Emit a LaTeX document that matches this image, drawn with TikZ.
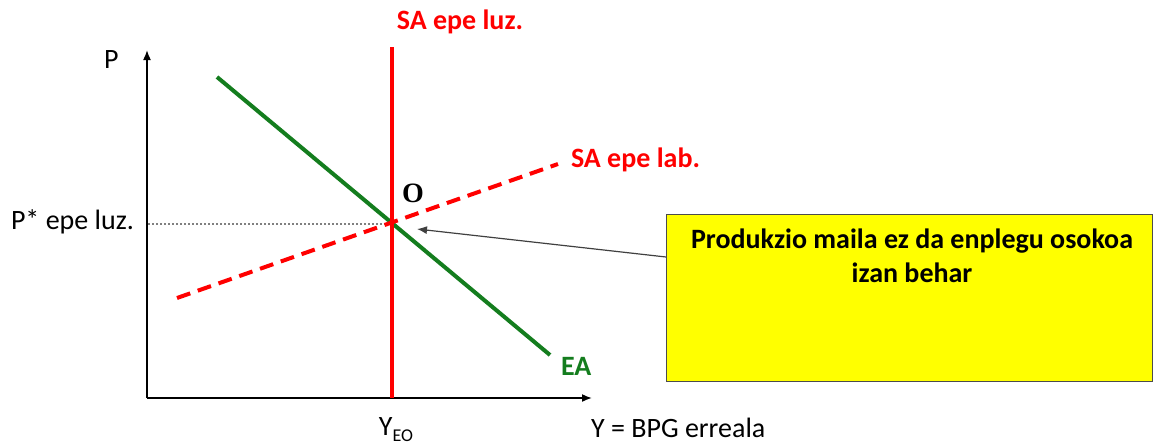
\documentclass[tikz,border=0pt]{standalone}
\usepackage{fontspec}
\setmainfont{Carlito}
\newfontfamily\serifO{Liberation Serif}
\usetikzlibrary{arrows.meta}
\definecolor{eagreen}{RGB}{20,125,30}
\definecolor{sared}{RGB}{255,0,0}
\definecolor{boxyellow}{RGB}{255,255,0}
\tikzset{
	axis/.style={line width=0.8pt,-{Latex[length=5pt,width=4pt]}},
	redlabel/.style={text=sared,font=\fontsize{14}{16}\selectfont\bfseries},
	plainlabel/.style={font=\fontsize{14}{16}\selectfont},
}
\begin{document}
\begin{tikzpicture}[x=0.5pt,y=-0.5pt,line cap=butt]
		\useasboundingbox (0,0) rectangle (1157,445);
		%\draw[step=50,very thin,color=gray] (0,0) grid (1157,445);
		\coordinate (orig) at (147,398);
		\coordinate (ytop) at (147,50);
		\coordinate (xend) at (592,398);
		\coordinate (eq) at (392,224);
		\coordinate (lrtop) at (392,47);
		\coordinate (lrbot) at (392,398);
		\coordinate (eatop) at (217,77);
		\coordinate (eabot) at (550,355);
		\coordinate (srbot) at (177,298);
		\coordinate (srtop) at (558,164);
		\coordinate (pstar) at (148,224);
		\draw[axis] (orig) -- (ytop);
		\draw[axis] (orig) -- (xend);
		\draw[gray,line width=1pt,dash pattern=on 1pt off 1pt] (pstar) -- (eq);
		\draw[eagreen,line width=2pt] (eatop) -- (eabot);
		\draw[sared,line width=2pt,dash pattern=on 7pt off 4pt] (srbot) -- (srtop);
		\draw[sared,line width=1.8pt] (lrbot) -- (lrtop);
		\node[plainlabel,anchor=west] (plab) at (97,60) {P};
		\node[plainlabel,anchor=east] (pstarlab) at (141,222) {P* epe luz.};
		\node[redlabel] (lrlab) at (460,22) {SA epe luz.};
		\node[redlabel,anchor=west] (srlab) at (564,160) {SA epe lab.};
		\node[anchor=west,text=eagreen,font=\fontsize{14}{16}\selectfont\bfseries] (ealab) at (554,366) {EA};
		\node[font=\fontsize{14}{16}\selectfont\serifO\bfseries] (olab) at (413,193) {O};
		\node[plainlabel] (yeolab) at (396,430) {Y\raisebox{-0.45ex}{\fontsize{9}{10}\selectfont EO}};
		\node[plainlabel,anchor=west] (ylab) at (584,428) {Y = BPG erreala};
		\node[draw=black!70,fill=boxyellow,line width=0.6pt,minimum width=243pt,minimum height=83.5pt,anchor=north west,inner sep=0pt] (note) at (666,214) {};
		\node[font=\fontsize{14}{17}\selectfont\bfseries,align=center,anchor=north] (notetxt) at (912,222) {Produkzio maila ez da enplegu osokoa\\izan behar};
		\coordinate (notein) at (note.west|-0,257);
		\coordinate (tip) at (417,229);
		\draw[black!75,line width=0.6pt,-{Latex[length=5pt,width=4pt]}] (notein) -- (tip);
\end{tikzpicture}
\end{document}
